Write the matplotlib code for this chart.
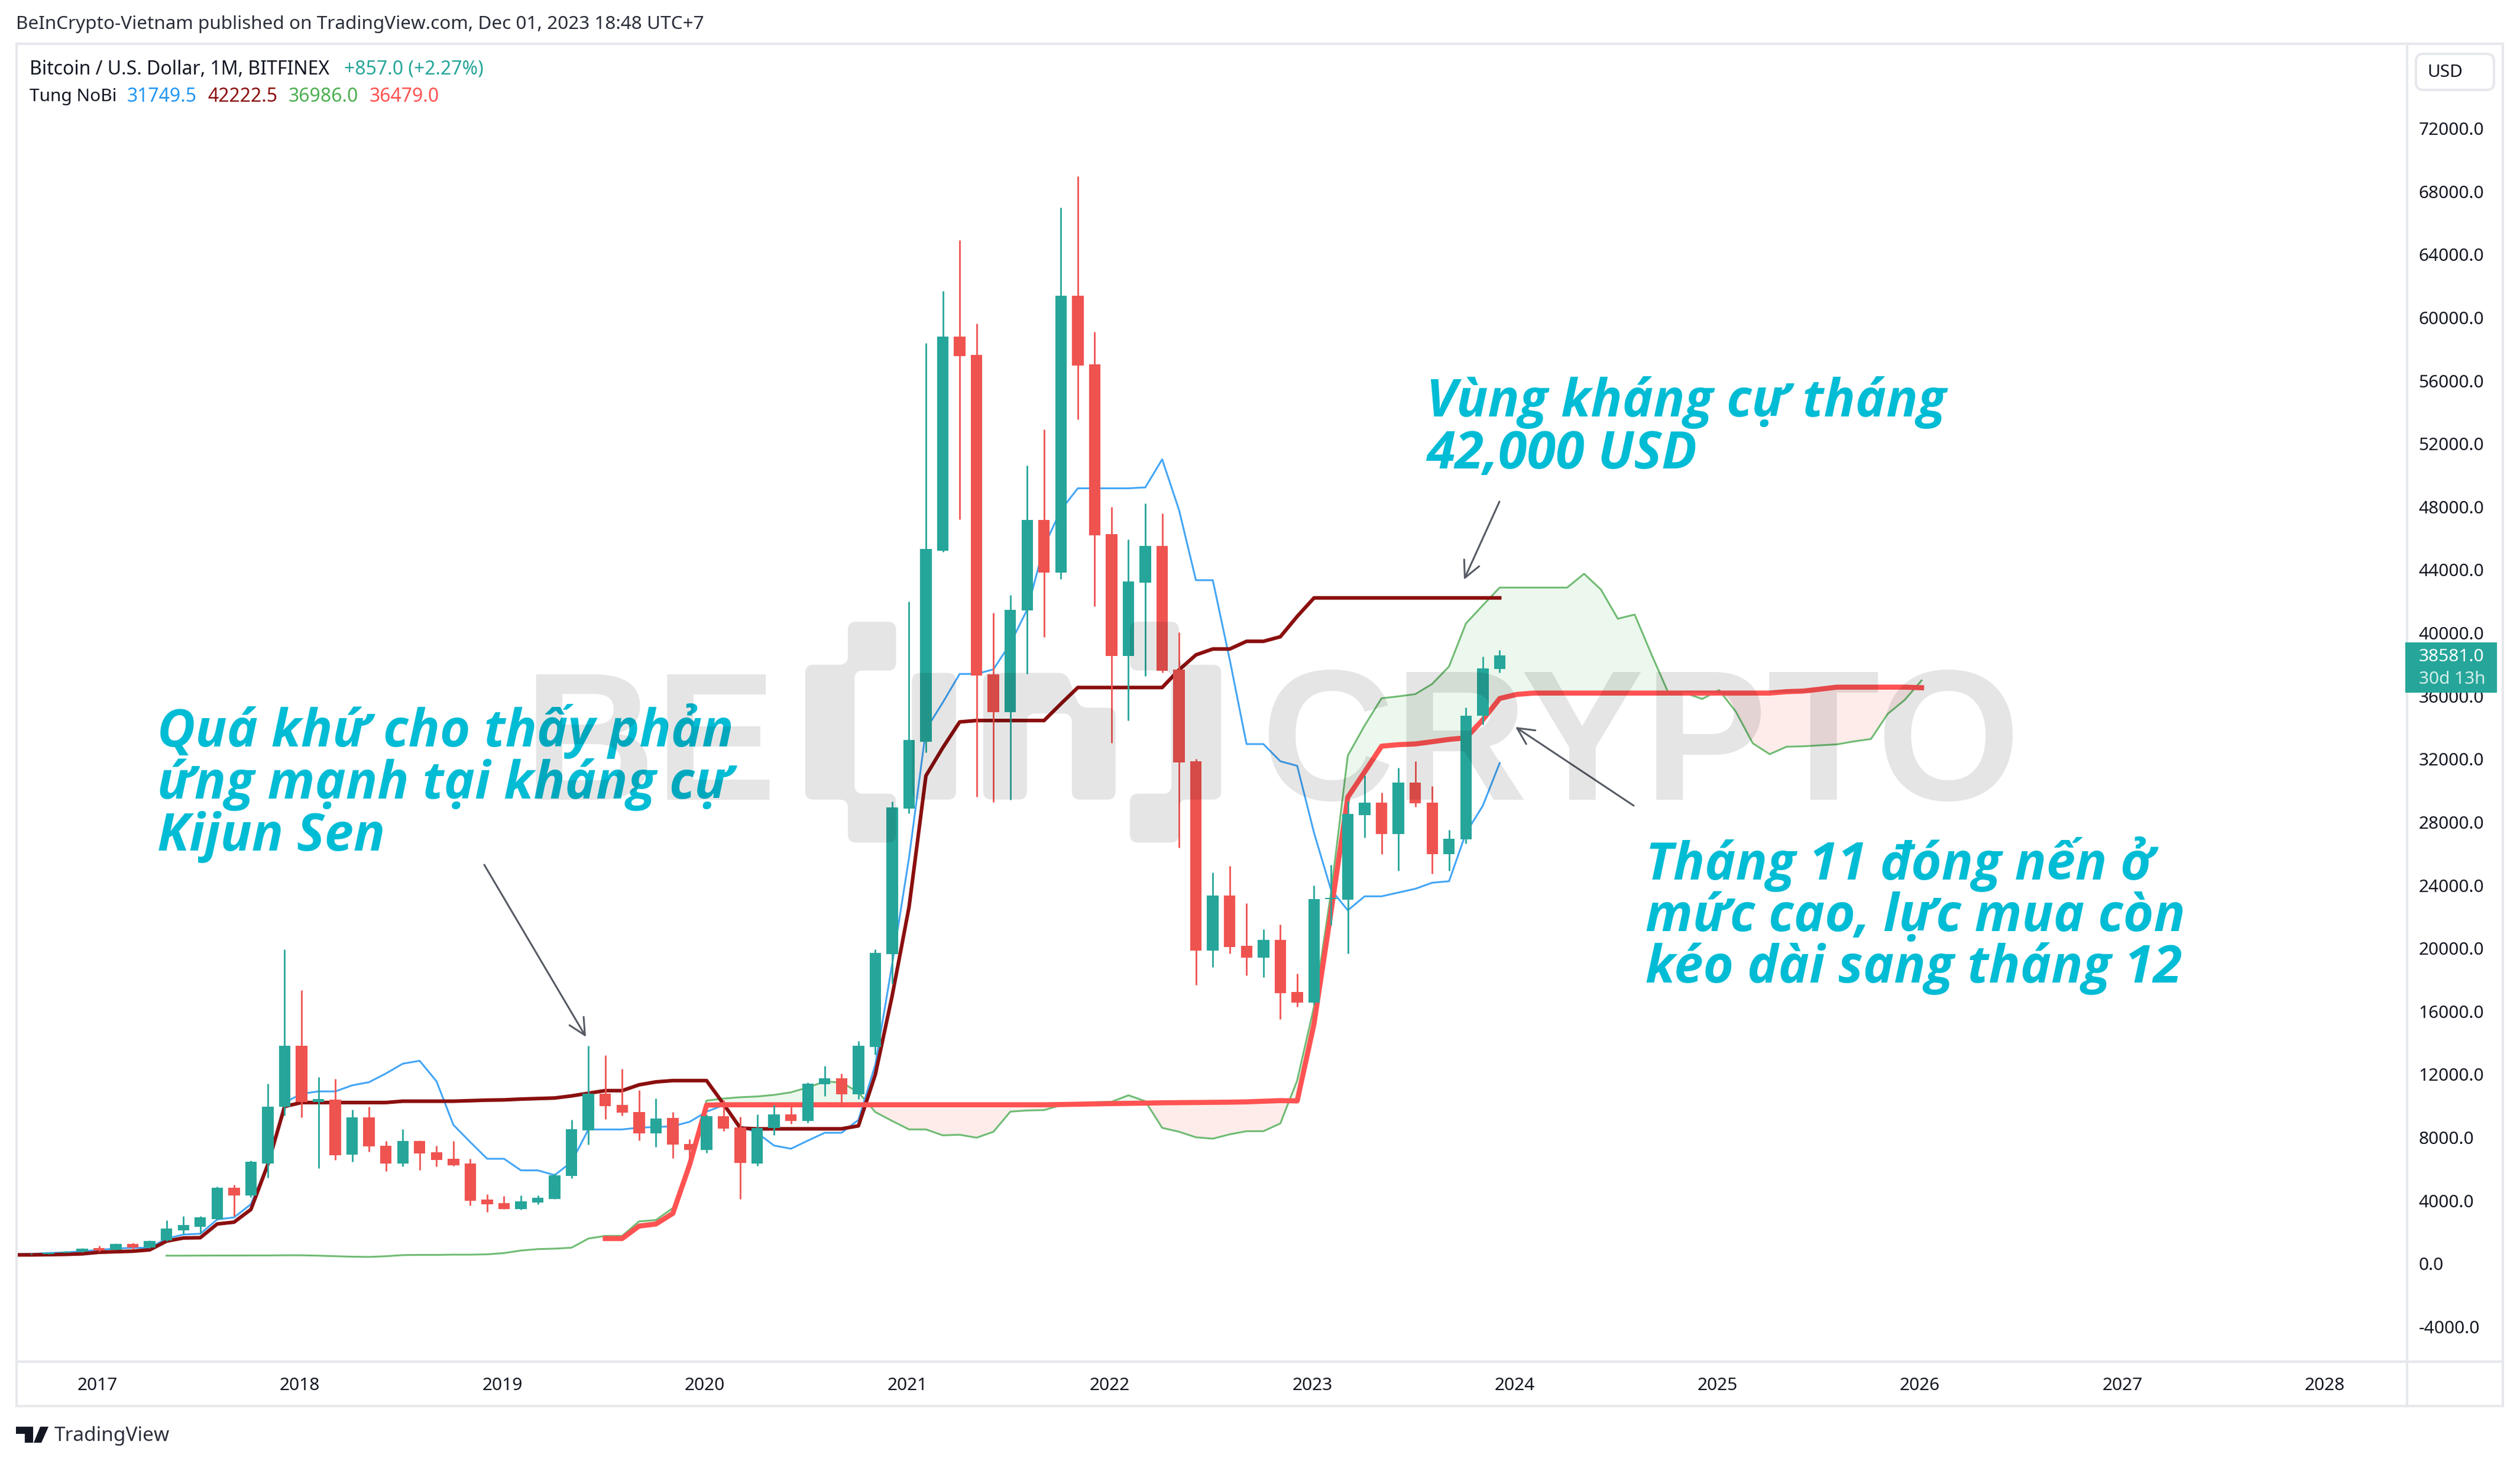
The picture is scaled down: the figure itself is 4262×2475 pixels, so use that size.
import matplotlib
matplotlib.use('Agg')
import matplotlib.pyplot as plt
from matplotlib.patches import Rectangle, FancyBboxPatch, PathPatch, Polygon
from matplotlib.path import Path

W, H = 4262, 2475

# Monthly candles, month index 0 = Jan 2017, first candle = Sep 2016 (index -4)
candle_start = -4
opens = [605, 615, 700, 745, 990, 870, 1250, 1040, 1462, 2129, 2347, 2815, 4809, 4306, 6366, 9934,
         13819, 10269, 10386, 6902, 9264, 7489, 6366, 7790, 7070, 6651, 6366, 4072, 3854, 3469, 3888, 4105,
         5562, 8460, 10771, 10051, 9632, 8259, 9247, 7589, 7204, 9348, 8627, 6333, 8594, 9465, 9050, 11363,
         11738, 10738, 13739, 19641, 28846, 33095, 45210, 58790, 57641, 37372, 34960, 41420, 47162, 43832, 61374, 57038,
         46272, 38521, 43171, 45497, 37660, 31860, 19850, 23342, 20137, 19419, 20544, 17218, 16547, 23100, 23080, 28462,
         29228, 27242, 30496, 29228, 25974, 26907, 34731, 37724]
highs = [640, 720, 790, 1000, 1150, 1300, 1330, 1480, 2733, 3017, 3000, 4900, 4993, 6534, 11424, 19932,
         17336, 11843, 11726, 9766, 9967, 7790, 8544, 7800, 7489, 7790, 6651, 4390, 4273, 4307, 4307, 5700,
         9130, 13819, 13200, 12362, 11006, 10470, 9632, 7874, 9450, 10380, 9300, 9470, 10050, 9967, 11500, 12551,
         12050, 14114, 19929, 29300, 41995, 58388, 61690, 64905, 59623, 41277, 42396, 50608, 52904, 66972, 68953, 59106,
         47995, 45928, 48225, 47593, 40042, 32027, 24802, 25209, 22840, 21190, 21500, 18390, 23964, 25280, 29350, 30975,
         29874, 31429, 31860, 30280, 27505, 35257, 38487, 38900]
lows = [560, 600, 690, 730, 760, 860, 900, 1000, 1420, 1900, 1928, 2780, 3017, 4222, 5445, 9381,
        9264, 6065, 6584, 6450, 7087, 5864, 6149, 5948, 6165, 6200, 3687, 3268, 3450, 3420, 3770, 4090,
        5400, 7539, 9163, 9381, 7824, 7405, 6701, 6500, 7035, 8400, 4105, 6200, 8158, 8879, 8950, 10613,
        9962, 10425, 13239, 17740, 28558, 32406, 45125, 47220, 29620, 29275, 29420, 37400, 39755, 43401, 53536, 41707,
        33008, 34444, 37257, 37500, 26400, 17696, 18821, 19658, 18294, 18175, 15519, 16309, 16450, 21450, 19658, 27027,
        25974, 24921, 28989, 24730, 24921, 26644, 34204, 37500]
closes = [615, 700, 745, 965, 850, 1250, 1040, 1440, 2213, 2431, 2933, 4809, 4323, 6450, 9967, 13819,
          10269, 10420, 6869, 9264, 7421, 6366, 7790, 7003, 6584, 6249, 3988, 3770, 3469, 3938, 4155, 5612,
          8510, 10771, 10000, 9582, 8259, 9214, 7539, 7204, 9348, 8577, 6400, 8594, 9465, 9046, 11424, 11738,
          10738, 13802, 19704, 28931, 33209, 45325, 58790, 57555, 37286, 34960, 41478, 47162, 43832, 61374, 56953, 46186,
          38521, 43258, 45497, 37602, 31774, 19850, 23342, 20065, 19419, 20544, 17146, 16547, 23127, 23200, 28510, 29228,
          27242, 30496, 29180, 25974, 26955, 34731, 37745, 38581]

# Ichimoku lines
line_start = -5
tenkan = [600, 620, 670, 710, 790, 870, 955, 1005, 1005, 1590, 1845, 1895, 2800, 2930, 3770, 6366, 10219,
          10770, 10922, 10922, 11307, 11508, 12060, 12680, 12864, 11558, 8795, 7706, 6650, 6650, 5914, 5914, 5613,
          6450, 8510, 8510, 8510, 8627, 8661, 8711, 8996, 9632, 10051, 8711, 8293, 7488, 7287, 7799, 8299,
          8299, 9112, 12614, 19000, 25744, 33870, 35591, 37400, 37400, 37688, 39325, 41478, 45497, 47794, 49172, 49172,
          49172, 49172, 49230, 51010, 47794, 43344, 43344, 38320, 32950, 32950, 31860, 31573, 27314, 23725, 22409, 23295,
          23295, 23534, 23773, 24156, 24252, 27314, 29037, 31749.5]
kijun = [555, 555, 570, 588, 622, 722, 756, 789, 873, 1426, 1627, 1644, 2515, 2631, 3436, 6283, 9967,
         10218, 10218, 10218, 10218, 10218, 10218, 10302, 10302, 10302, 10302, 10336, 10369, 10386, 10436, 10470, 10503,
         10637, 10805, 10972, 10972, 11340, 11525, 11608, 11608, 11608, 10135, 8594, 8544, 8550, 8550, 8550, 8550,
         8550, 8737, 11988, 16990, 22617, 30941, 32722, 34357, 34444, 34444, 34444, 34444, 34444, 35506, 36538, 36538,
         36538, 36538, 36538, 36538, 37660, 38607, 38980, 38980, 39468, 39468, 39755, 41047, 42222.5, 42222.5, 42222.5, 42222.5,
         42222.5, 42222.5, 42222.5, 42222.5, 42222.5, 42222.5, 42222.5, 42222.5]

span_a_start = 4
span_a = [505, 505, 510, 515, 515, 520, 520, 530, 530, 505, 470, 440, 425, 470, 540, 555, 555, 570, 570, 590, 670, 830,
          920, 950, 1010, 1590, 1760, 1760, 2680, 2765, 3520, 6280, 10340, 10470, 10553, 10600, 10700, 10863, 11175, 11550,
          11488, 10863, 9613, 9050, 8512, 8512, 8137, 8175, 7987, 8363, 9638, 9713, 9738, 10051, 10176, 10238, 10263, 10676,
          10301, 8613, 8363, 8012, 7925, 8200, 8400, 8400, 8888, 11614, 16308, 23486, 32219, 34133, 35855, 35975, 36118, 36764,
          37874, 40600, 41751, 42876, 42876, 42876, 42876, 42876, 43752, 42751, 40900, 41163, 38625, 36186, 36186, 35811, 36374,
          34998, 32997, 32310, 32785, 32810, 32873, 32935, 33123, 33273, 34873, 35749, 36986]
span_b_start = 30
span_b = [1593, 1593, 2380, 2515, 3184, 6283, 10050, 10075, 10075, 10075, 10075, 10075, 10075, 10075, 10075, 10075, 10075,
          10075, 10075, 10075, 10075, 10075, 10075, 10075, 10075, 10075, 10075, 10090, 10110, 10130, 10150, 10165, 10180, 10200,
          10210, 10220, 10230, 10240, 10260, 10300, 10338, 10320, 15232, 22290, 29587, 31190, 32817, 32913, 32960, 33100, 33247,
          33343, 34490, 35840, 36099, 36186, 36186, 36186, 36186, 36186, 36186, 36186, 36186, 36186, 36186, 36186, 36186, 36186,
          36186, 36186, 36274, 36311, 36436, 36561, 36561, 36561, 36561, 36561, 36524]

year_labels = ['2017', '2018', '2019', '2020', '2021', '2022', '2023', '2024', '2025', '2026', '2027', '2028']
year_ticks = [0, 12, 24, 36, 48, 60, 72, 84, 96, 108, 120, 132]
price_ticks = [-4000, 0, 4000, 8000, 12000, 16000, 20000, 24000, 28000, 32000, 36000, 40000,
               44000, 48000, 52000, 56000, 60000, 64000, 68000, 72000]

GREEN = '#26a69a'
RED = '#ef5350'
CYAN = '#00bcd4'
FRAME = '#e6e8ec'
FONT = 'Noto Sans'
plt.rcParams['font.family'] = [FONT, 'DejaVu Sans']


def fx(x):
    return x / W


def fy(y):
    return 1 - y / H


fig = plt.figure(figsize=(W / 100, H / 100), dpi=100, facecolor='white')
ax = fig.add_axes([fx(28), fy(2302), fx(4071 - 28), (2302 - 74) / H])
ax.set_xlim(-4.888, 136.77)
ax.set_ylim(-6218, 77365)
for s in ax.spines.values():
    s.set_visible(False)

# Cloud and lines
x_a = list(range(span_a_start, span_a_start + len(span_a)))
x_b = list(range(span_b_start, span_b_start + len(span_b)))
x_line = list(range(line_start, line_start + len(tenkan)))
a_on_b = span_a[span_b_start - span_a_start:]
above = [a >= b for a, b in zip(a_on_b, span_b)]
below = [a <= b for a, b in zip(a_on_b, span_b)]
ax.fill_between(x_b, a_on_b, span_b, where=above, interpolate=True, color='#ecf7ed', lw=0, zorder=1)
ax.fill_between(x_b, a_on_b, span_b, where=below, interpolate=True, color='#fdecea', lw=0, zorder=1)
ax.plot(x_a, span_a, color='#6fbb73', lw=2.2, zorder=2)
ax.plot(x_line, tenkan, color='#42a5f5', lw=2.2, zorder=2)
ax.plot(x_line, kijun, color='#8b0f0f', lw=4.4, zorder=3)
ax.plot(x_b, span_b, color='#ff5252', lw=6.2, zorder=3)

# Candles
for i in range(len(opens)):
    x = candle_start + i
    o, h, l, c = opens[i], highs[i], lows[i], closes[i]
    col = GREEN if c >= o else RED
    ax.plot([x, x], [l, h], color=col, lw=2.0, solid_capstyle='butt', zorder=4)
    ax.bar(x, abs(c - o), width=0.68, bottom=min(o, c), color=col, lw=0, zorder=5)

ax.set_xticks([t - 0.1 for t in year_ticks])
ax.set_xticklabels(year_labels)
ax.set_yticks(price_ticks)
ax.set_yticklabels(['%.1f' % p for p in price_ticks])
ax.yaxis.tick_right()
ax.tick_params(axis='x', length=0, pad=19, labelsize=21.5, labelcolor='#131722')
ax.tick_params(axis='y', length=0, pad=14, labelsize=21.5, labelcolor='#131722')

# Frame around the chart
fig.add_artist(Rectangle((fx(28), fy(2377)), fx(4233 - 28), (2377 - 74) / H, transform=fig.transFigure,
                         fill=False, ec=FRAME, lw=3, zorder=3))
fig.add_artist(plt.Line2D([fx(4071), fx(4071)], [fy(74), fy(2377)], color=FRAME, lw=3, zorder=3))
fig.add_artist(plt.Line2D([fx(28), fx(4233)], [fy(2302), fy(2302)], color=FRAME, lw=3, zorder=3))

# Header text
fig.text(fx(27), fy(41), 'BeInCrypto-Vietnam published on TradingView.com, Dec 01, 2023 18:48 UTC+7',
         fontsize=22.7, color='#2a2e39', va='center')
fig.text(fx(50), fy(117), 'Bitcoin / U.S. Dollar, 1M, BITFINEX', fontsize=23, color='#131722', va='center')
fig.text(fx(582), fy(117), '+857.0 (+2.27%)', fontsize=23, color=GREEN, va='center')
fig.text(fx(50), fy(163), 'Tung NoBi', fontsize=21.5, color='#131722', va='center')
fig.text(fx(215), fy(163), '31749.5', fontsize=23, color='#2196f3', va='center')
fig.text(fx(351), fy(163), '42222.5', fontsize=23, color='#8b0f0f', va='center')
fig.text(fx(488), fy(163), '36986.0', fontsize=23, color='#4caf50', va='center')
fig.text(fx(625), fy(163), '36479.0', fontsize=23, color='#ff5252', va='center')

# USD box and last price tag
fig.add_artist(FancyBboxPatch((fx(4086), fy(152)), fx(132), 61 / H, transform=fig.transFigure,
                              boxstyle='round,pad=0,rounding_size=0.003', fc='white', ec=FRAME, lw=3,
                              mutation_aspect=W / H, zorder=3))
fig.text(fx(4105), fy(122), 'USD', fontsize=21.5, color='#131722', va='center', zorder=4)
fig.add_artist(Rectangle((fx(4068), fy(1171)), fx(155), 85 / H, transform=fig.transFigure, fc=GREEN, lw=0, zorder=3))
fig.text(fx(4091), fy(1110), '38581.0', fontsize=21.5, color='white', va='center', zorder=4)
fig.text(fx(4091), fy(1148), '30d 13h', fontsize=21.5, color='#d4eeeb', va='center', zorder=4)

# Footer logo
fig.add_artist(Polygon([(fx(a), fy(b)) for a, b in [(27, 2412), (56, 2412), (56, 2439), (42, 2439), (42, 2424), (27, 2424)]],
                       transform=fig.transFigure, fc='#131722', lw=0, zorder=3))
fig.add_artist(Polygon([(fx(a), fy(b)) for a, b in [(68, 2412), (82, 2412), (70, 2439), (57, 2439)]],
                       transform=fig.transFigure, fc='#131722', lw=0, zorder=3))
fig.text(fx(92), fy(2428), 'TradingView', fontsize=24, color='#2a2e39', va='center')

# Annotation text
for x, y, s in [(266, 1262, 'Quá khứ cho thấy phản'), (266, 1350, 'ứng mạnh tại kháng cự'), (266, 1438, 'Kijun Sen'),
                (2412, 704, 'Vùng kháng cự tháng'), (2412, 792, '42,000 USD'),
                (2783, 1487, 'Tháng 11 đóng nến ở'), (2783, 1574, 'mức cao, lực mua còn'), (2783, 1661, 'kéo dài sang tháng 12')]:
    fig.text(fx(x), fy(y), s, fontsize=63.5, family='Open Sans', style='italic', weight='bold',
             color=CYAN, va='baseline', zorder=4)

# Arrows
for start, tip in [((819, 1462), (991, 1753)), ((2536, 848), (2476, 980)), ((2763, 1362), (2563, 1229))]:
    ax.annotate('', xy=(fx(tip[0]), fy(tip[1])), xytext=(fx(start[0]), fy(start[1])),
                xycoords='figure fraction', textcoords='figure fraction', annotation_clip=False,
                arrowprops=dict(arrowstyle='->,head_length=0.5,head_width=0.25', color='#555a63', lw=2.2,
                                mutation_scale=40, shrinkA=0, shrinkB=0), zorder=7)


# Watermark sits over everything, slightly darkening what it covers
def rounded(points, r=14):
    verts, codes = [], []
    n = len(points)
    for i in range(n):
        px, py = points[i - 1]
        cx, cy = points[i]
        nx, ny = points[(i + 1) % n]
        d1 = max(abs(cx - px), abs(cy - py), 1)
        d2 = max(abs(nx - cx), abs(ny - cy), 1)
        a = (cx + (px - cx) * min(r, d1 / 2) / d1, cy + (py - cy) * min(r, d1 / 2) / d1)
        b = (cx + (nx - cx) * min(r, d2 / 2) / d2, cy + (ny - cy) * min(r, d2 / 2) / d2)
        verts += [a, (cx, cy), b]
        codes += [Path.MOVETO if i == 0 else Path.LINETO, Path.CURVE3, Path.CURVE3]
    verts.append(verts[0])
    codes.append(Path.CLOSEPOLY)
    return [(fx(v[0]), fy(v[1])) for v in verts], codes


# logo outline read in zoom units: px = 1300 + x / 1.568, py = 250 + y / 1.307
logo_shapes = [
    [(210, 1047), (338, 1047), (338, 1155), (228, 1155), (228, 1427), (338, 1427), (338, 1535), (210, 1535), (210, 1440), (97, 1440), (97, 1142), (210, 1142)],
    [(380, 1160), (497, 1160), (497, 1440), (380, 1440)],
    [(569, 1160), (790, 1160), (825, 1237), (920, 1237), (920, 1440), (804, 1440), (804, 1250), (685, 1250), (685, 1440), (569, 1440)],
    [(958, 1047), (1088, 1047), (1088, 1142), (1200, 1142), (1200, 1440), (1088, 1440), (1088, 1535), (958, 1535), (958, 1427), (1068, 1427), (1068, 1155), (958, 1155)],
]
for shape in logo_shapes:
    pts = [(1300 + a / 1.568, 250 + b / 1.307) for a, b in shape]
    verts, codes = rounded(pts)
    fig.add_artist(PathPatch(Path(verts, codes), transform=fig.transFigure, fc='black', alpha=0.1, lw=0, zorder=6))
fig.text(fx(885), fy(1352), 'BE', fontsize=222, family='Liberation Sans', weight='bold', color='black', alpha=0.1, zorder=6)
fig.text(fx(2132), fy(1352), 'CRYPTO', fontsize=225, family='Liberation Sans', weight='bold', color='black', alpha=0.1, zorder=6)

fig.savefig('out.png', dpi=100)
